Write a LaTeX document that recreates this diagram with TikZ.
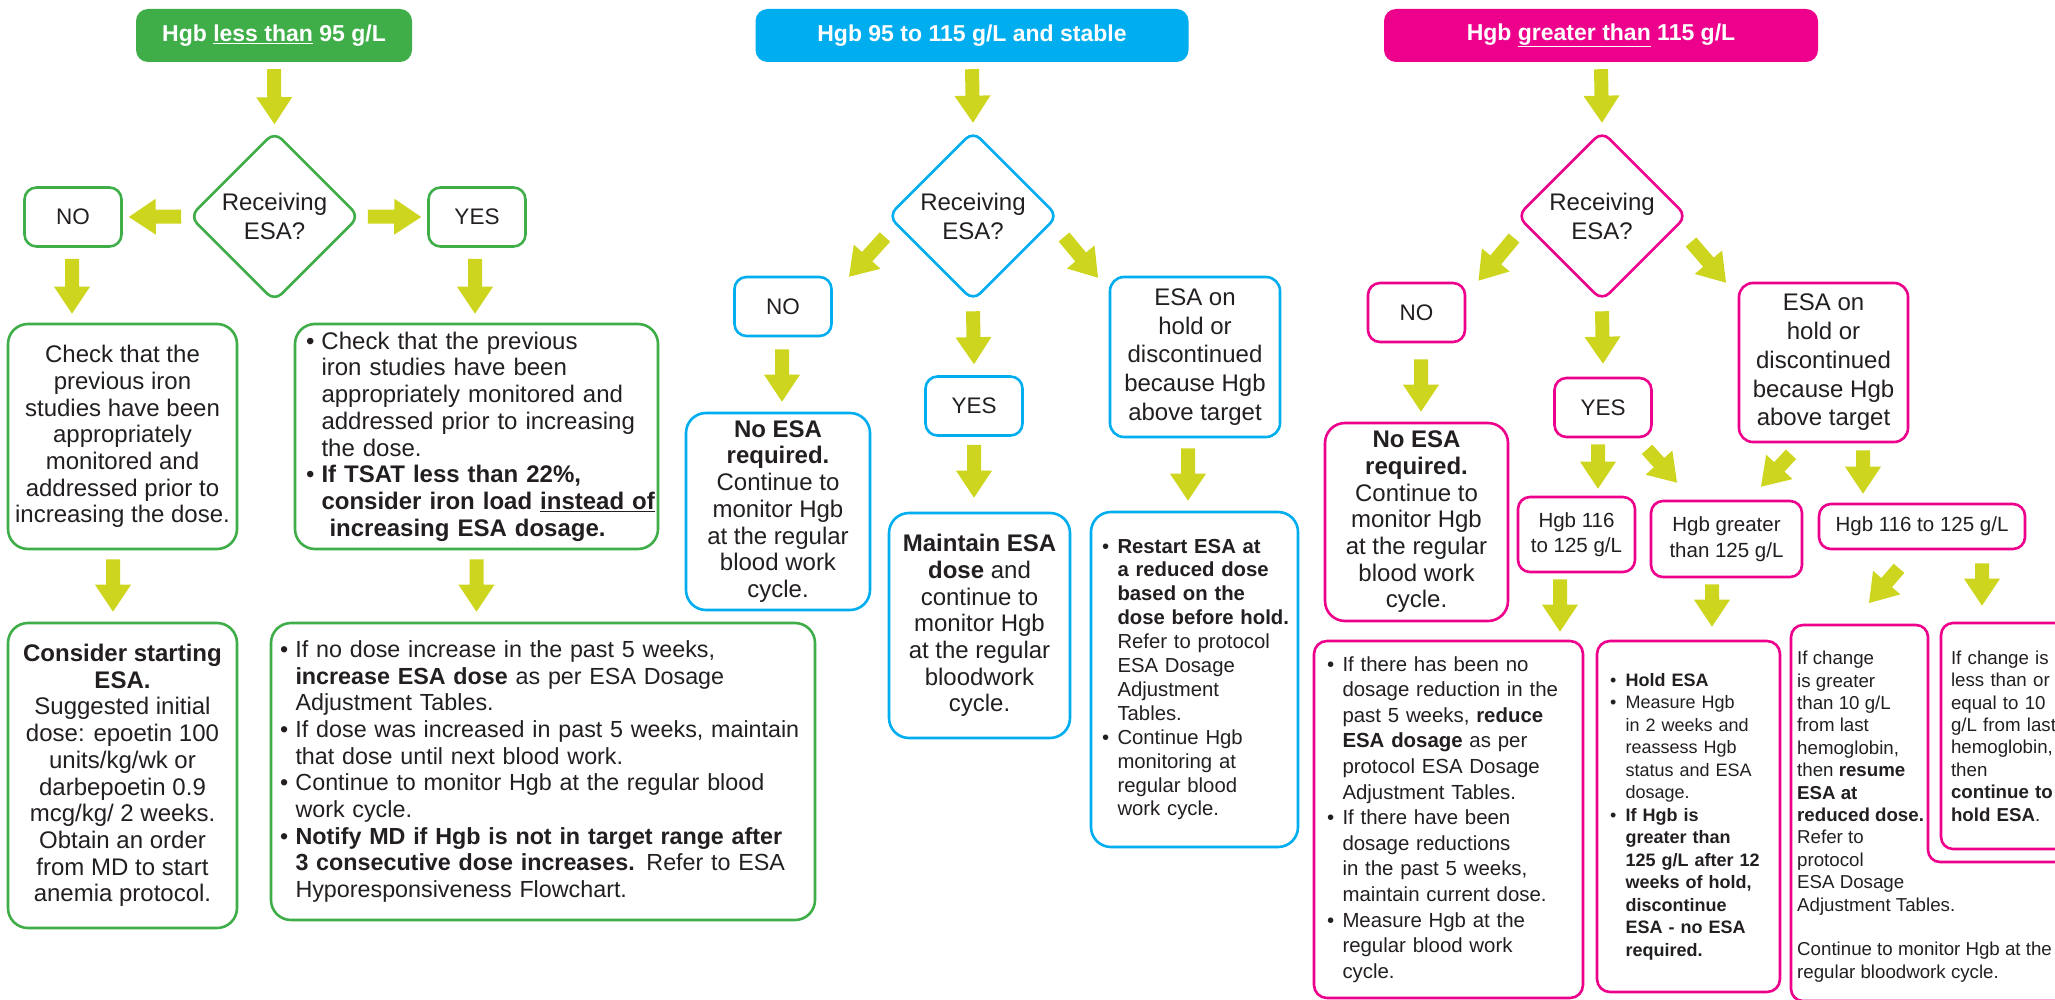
\documentclass[tikz,border=0pt]{standalone}
\usepackage{fontspec}
\setmainfont{Liberation Sans}
\usetikzlibrary{shapes.geometric,calc}
\definecolor{gcol}{HTML}{3FAE49}
\definecolor{bcol}{HTML}{00AEEF}
\definecolor{pcol}{HTML}{EC008C}
\definecolor{acol}{RGB}{205,213,31}
\definecolor{txt}{HTML}{231F20}
\newcommand\fA{\fontsize{24}{26.7}\selectfont}
\newcommand\fI{\fontsize{23.3}{26.7}\selectfont}
\newcommand\fH{\fontsize{24}{28.7}\selectfont}
\newcommand\fD{\fontsize{24}{29}\selectfont}
\newcommand\fY{\fontsize{22.5}{26}\selectfont}
\newcommand\fR{\fontsize{20.3}{23.9}\selectfont}
\newcommand\fP{\fontsize{20.4}{25.6}\selectfont}
\newcommand\fQ{\fontsize{18}{22.5}\selectfont}
\newcommand\fC{\fontsize{18.7}{22.4}\selectfont}
\newcommand\fS{\fontsize{20.5}{25.5}\selectfont}
\newcommand\bli[1]{\mbox{\makebox[15.5pt][l]{•}#1}}
\newcommand\cli[1]{\mbox{\hspace*{15.5pt}#1}}
\newcommand\fatarr[2]{%
  \path (#1) coordinate (fa-a) (#2) coordinate (fa-b);
  \path ($(fa-b)!27pt!(fa-a)$) coordinate (fa-h);
  \fill[acol] ($(fa-a)!7pt!90:(fa-b)$) -- ($(fa-h)!7pt!-90:(fa-a)$) -- ($(fa-h)!18pt!-90:(fa-a)$) -- (fa-b) -- ($(fa-h)!18pt!90:(fa-a)$) -- ($(fa-h)!7pt!90:(fa-a)$) -- ($(fa-a)!7pt!-90:(fa-b)$) -- cycle;}
\tikzset{
  box/.style={draw=#1, line width=2.6pt, rounded corners=20pt, fill=white, text=txt, inner sep=0pt},
  sbox/.style={box=#1, rounded corners=12pt, minimum width=97pt, minimum height=59pt, font=\fY},
  hdr/.style={fill=#1, rounded corners=12pt, text=white, font=\fontsize{23}{27}\selectfont\bfseries, minimum height=53pt, inner sep=0pt},
  dia/.style={diamond, aspect=1, draw=#1, line width=2.6pt, rounded corners=10pt, minimum width=170pt, minimum height=170pt, inner sep=0pt, align=center, font=\fD, text=txt, fill=white},
}
\begin{document}
\begin{tikzpicture}[x=1pt,y=-1pt]
\useasboundingbox (0,0) rectangle (2055,1000);
\clip (0,0) rectangle (2055,1000);
% ---------------- green column
\node[hdr=gcol, minimum width=276pt] (g0) at (274,35.5) {Hgb \underline{less than} 95 g/L};
\node[dia=gcol] (gd) at (274.5,216.5) {Receiving\\ESA?};
\node[sbox=gcol] (gno) at (73,217) {NO};
\node[sbox=gcol] (gyes) at (477,217) {YES};
\node[box=gcol, minimum width=229pt, minimum height=225pt, align=center, font=\fA] (gcheck) at (122.5,436.5) {Check that the\\previous iron\\studies have been\\appropriately\\monitored and\\addressed prior to\\increasing the dose.};
\node[box=gcol, minimum width=363pt, minimum height=225pt, text width=341pt, align=left, font=\fA] (gcheck2) at (476.5,436.5) {\bli{Check that the previous}\\\cli{iron studies have been}\\\cli{appropriately monitored and}\\\cli{addressed prior to increasing}\\\cli{the dose.}\\\bli{\textbf{If TSAT less than 22\%,}}\\\cli{\textbf{consider iron load \underline{instead of}}}\\\cli{\textbf{\ increasing ESA dosage.}}};
\node[box=gcol, minimum width=229pt, minimum height=305pt, align=center, font=\fA] (gcons) at (122.5,775.5) {\textbf{Consider starting}\\\textbf{ESA.}\\Suggested initial\\dose: epoetin 100\\units/kg/wk or\\darbepoetin 0.9\\mcg/kg/ 2 weeks.\\Obtain an order\\from MD to start\\anemia protocol.};
\node[box=gcol, minimum width=544pt, minimum height=297pt, text width=526pt, align=left, font=\fI] (gincr) at (543,771.5) {\bli{If no dose increase in the past 5 weeks,}\\\cli{\textbf{increase ESA dose} as per ESA Dosage}\\\cli{Adjustment Tables.}\\\bli{If dose was increased in past 5 weeks, maintain}\\\cli{that dose until next blood work.}\\\bli{Continue to monitor Hgb at the regular blood}\\\cli{work cycle.}\\\bli{\textbf{Notify MD if Hgb is not in target range after}}\\\cli{\textbf{3 consecutive dose increases.} Refer to ESA}\\\cli{Hyporesponsiveness Flowchart.}};
\fatarr{$(g0.south)+(0,7)$}{$(gd.north)+(0,-6)$}
\fatarr{$(gd.west)+(-7,0)$}{$(gno.east)+(6,0)$}
\fatarr{$(gd.east)+(7,0)$}{$(gyes.west)+(-6,0)$}
\fatarr{$(gno.south)+(-1,11)$}{$(gno.south |- gcheck.north)+(-1,-9)$}
\fatarr{$(gyes.south)+(-2,11)$}{$(gyes.south |- gcheck2.north)+(-2,-9)$}
\fatarr{$(gcheck.south)+(-9.5,9)$}{$(gcheck.south |- gcons.north)+(-9.5,-10)$}
\fatarr{$(gcheck2.south)+(0,9)$}{$(gcheck2.south |- gincr.north)+(0,-10)$}
% ---------------- blue column
\node[hdr=bcol, minimum width=433pt] (b0) at (972,35.5) {Hgb 95 to 115 g/L and stable};
\node[dia=bcol] (bd) at (973,216) {Receiving\\ESA?};
\node[sbox=bcol] (bno) at (783,306.5) {NO};
\node[box=bcol, rounded corners=14pt, minimum width=170pt, minimum height=160pt, align=center, font=\fH] (bhold) at (1195,357) {ESA on\\hold or\\discontinued\\because Hgb\\above target};
\node[sbox=bcol] (byes) at (974,406) {YES};
\node[box=bcol, minimum width=184pt, minimum height=197pt, align=center, font=\fA] (bnoesa) at (778,511.5) {\textbf{No ESA}\\\textbf{required.}\\Continue to\\monitor Hgb\\at the regular\\blood work\\cycle.};
\node[box=bcol, minimum width=181pt, minimum height=225pt, align=center, font=\fA] (bmaint) at (979.5,625.5) {\textbf{Maintain ESA}\\\textbf{dose} and\\continue to\\monitor Hgb\\at the regular\\bloodwork\\cycle.};
\node[box=bcol, minimum width=207pt, minimum height=335pt, text width=185pt, align=left, font=\fR] (brestart) at (1194.5,679.5) {\bli{\textbf{Restart ESA at}}\\\cli{\textbf{a reduced dose}}\\\cli{\textbf{based on the}}\\\cli{\textbf{dose before hold.}}\\\cli{Refer to protocol}\\\cli{ESA Dosage}\\\cli{Adjustment}\\\cli{Tables.}\\\bli{Continue Hgb}\\\cli{monitoring at}\\\cli{regular blood}\\\cli{work cycle.}};
\fatarr{$(b0.south)+(0,7)$}{$(bd.north)+(0,-7)$}
\fatarr{$(bd.center)+(-88,21)$}{$(bno.north)+(66,1)$}
\fatarr{$(bd.center)+(91,21)$}{$(bhold.north)+(-97,2)$}
\fatarr{$(bd.south)+(0,9)$}{$(byes.north)+(0,-11)$}
\fatarr{$(bno.south)+(-1,12)$}{$(bno.south |- bnoesa.north)+(-1,-10)$}
\fatarr{$(byes.south)+(0,8)$}{$(byes.south |- bmaint.north)+(0,-14)$}
\fatarr{$(bhold.south)+(-7,10)$}{$(bhold.south |- brestart.north)+(-7,-10)$}
% ---------------- pink column
\node[hdr=pcol, minimum width=434pt] (p0) at (1601,35.5) {Hgb \underline{greater than} 115 g/L};
\node[dia=pcol] (pd) at (1602,216) {Receiving\\ESA?};
\node[sbox=pcol] (pno) at (1416.5,312.5) {NO};
\node[box=pcol, rounded corners=14pt, minimum width=169pt, minimum height=159pt, align=center, font=\fH] (phold) at (1823.5,362.5) {ESA on\\hold or\\discontinued\\because Hgb\\above target};
\node[sbox=pcol] (pyes) at (1603,407.5) {YES};
\node[box=pcol, minimum width=183pt, minimum height=198pt, align=center, font=\fA] (pnoesa) at (1416.5,522) {\textbf{No ESA}\\\textbf{required.}\\Continue to\\monitor Hgb\\at the regular\\blood work\\cycle.};
\node[box=pcol, rounded corners=12pt, minimum width=117pt, minimum height=75pt, align=center, font=\fS] (p116a) at (1576.5,534.5) {Hgb 116\\to 125 g/L};
\node[box=pcol, rounded corners=12pt, minimum width=151pt, minimum height=76pt, align=center, font=\fS] (pgt) at (1726.5,539) {Hgb greater\\than 125 g/L};
\node[box=pcol, rounded corners=12pt, minimum width=206pt, minimum height=45pt, align=center, font=\fS] (p116b) at (1922,526.5) {Hgb 116 to 125 g/L};
\node[box=pcol, rounded corners=13pt, minimum width=269pt, minimum height=357pt, text width=243pt, align=left, font=\fP] (preduce) at (1448.5,819.5) {\bli{If there has been no}\\\cli{dosage reduction in the}\\\cli{past 5 weeks, \textbf{reduce}}\\\cli{\textbf{ESA dosage} as per}\\\cli{protocol ESA Dosage}\\\cli{Adjustment Tables.}\\\bli{If there have been}\\\cli{dosage reductions}\\\cli{in the past 5 weeks,}\\\cli{maintain current dose.}\\\bli{Measure Hgb at the}\\\cli{regular blood work}\\\cli{cycle.}};
\node[box=pcol, rounded corners=13pt, minimum width=183pt, minimum height=351pt, text width=157pt, align=left, font=\fQ] (pholdesa) at (1688.5,816.5) {\bli{\textbf{Hold ESA}}\\\bli{Measure Hgb}\\\cli{in 2 weeks and}\\\cli{reassess Hgb}\\\cli{status and ESA}\\\cli{dosage.}\\\bli{\textbf{If Hgb is}}\\\cli{\textbf{greater than}}\\\cli{\textbf{125 g/L after 12}}\\\cli{\textbf{weeks of hold,}}\\\cli{\textbf{discontinue}}\\\cli{\textbf{ESA - no ESA}}\\\cli{\textbf{required.}}};
\node[box=pcol, rounded corners=12pt, minimum width=129pt, minimum height=226pt, text width=109pt, align=left, font=\fC] (pchg2) at (2005.5,736) {If change is\\less than or\\equal to 10\\g/L from last\\hemoglobin,\\then\\\textbf{continue to}\\\textbf{hold ESA}.};
\draw[pcol, line width=2.6pt, rounded corners=12pt] (1791,625) -- (1928,625) -- (1928,862) -- (2075,862) -- (2075,1001) -- (1791,1001) -- cycle;
\coordinate (pchgtop) at (1859.5,625);
\node[anchor=north west, inner sep=0pt, align=left, font=\fC, text=txt] (pchg) at (1797,651) {If change\\is greater\\than 10 g/L\\from last\\hemoglobin,\\then \textbf{resume}\\\textbf{ESA at}\\\textbf{reduced dose.}\\Refer to\\protocol\\ESA Dosage\\Adjustment Tables.\\[22.4pt]Continue to monitor Hgb at the\\regular bloodwork cycle.};
\fatarr{$(p0.south)+(0,7)$}{$(pd.north)+(0,-7)$}
\fatarr{$(pd.center)+(-88,22)$}{$(pno.north)+(62,-1)$}
\fatarr{$(pd.center)+(89,26)$}{$(phold.north)+(-97.5,1)$}
\fatarr{$(pd.south)+(0,9)$}{$(pyes.north)+(0,-13)$}
\fatarr{$(pno.south)+(4.5,16)$}{$(pno.south |- pnoesa.north)+(4.5,-10)$}
\fatarr{$(pyes.south)+(-5,6)$}{$(pyes.south |- p116a.north)+(-5,-7)$}
\fatarr{$(pyes.south)+(44,11)$}{$(pgt.north)+(-49.5,-17)$}
\fatarr{$(phold.south)+(-32.5,11)$}{$(pgt.north)+(34.5,-13)$}
\fatarr{$(phold.south)+(39.5,7)$}{$(phold.south |- p116b.north)+(39.5,-9)$}
\fatarr{$(p116a.south)+(-16.5,6)$}{$(p116a.south |- preduce.north)+(-16.5,-8)$}
\fatarr{$(pgt.south)+(-14.5,6)$}{$(pgt.south |- pholdesa.north)+(-14.5,-13)$}
\fatarr{$(p116b.south)+(-23,18)$}{$(pchgtop)+(9.5,-22)$}
\fatarr{$(p116b.south)+(60,13)$}{$(p116b.south |- pchg2.north)+(60,-16)$}
\end{tikzpicture}
\end{document}
